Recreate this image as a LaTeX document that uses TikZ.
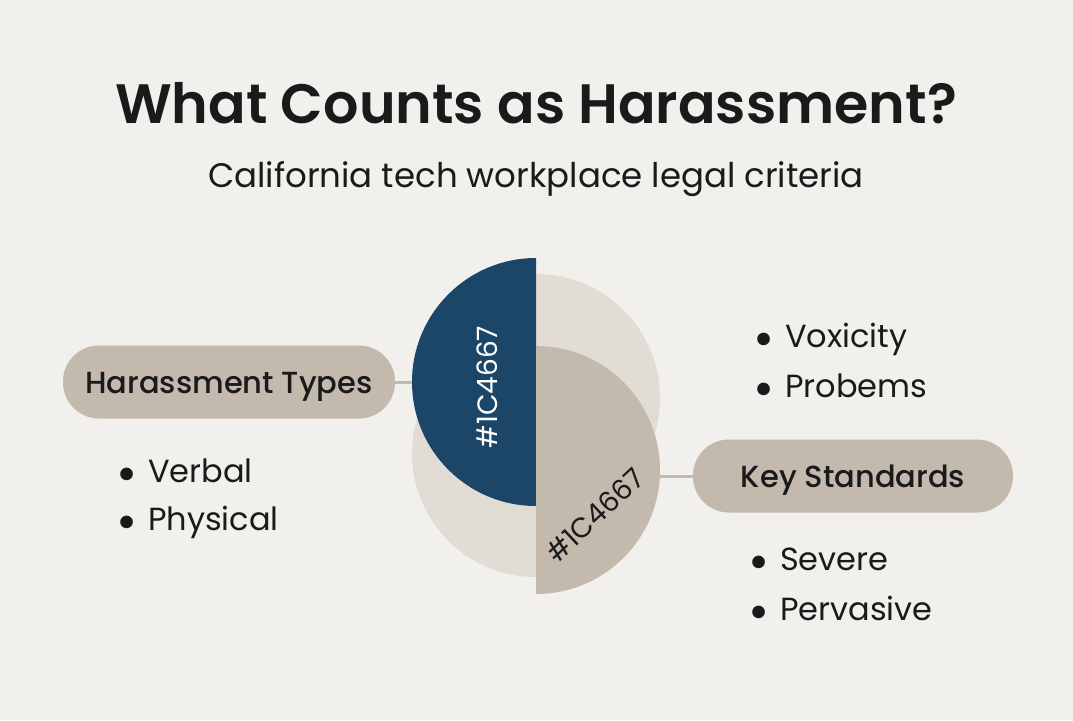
\documentclass[tikz,border=0pt]{standalone}
\usepackage{fontspec}
\usepackage{graphicx}
\setmainfont{Poppins}
\newfontfamily\headfont{Poppins SemiBold}
\newfontfamily\pillfont{Poppins Medium}
\definecolor{paper}{HTML}{F1F0EC}
\definecolor{navy}{HTML}{1C4667}
\definecolor{sand}{HTML}{C3BAAD}
\definecolor{pale}{HTML}{E1DCD4}
\definecolor{ink}{HTML}{1A1A1A}
\newcommand{\dotitem}{\llap{\raisebox{-9pt}{\scalebox{1.6}{•}}\hspace{11pt}}}
\begin{document}
\begin{tikzpicture}[x=1pt,y=1pt]
    \def\r{124}

    \tikzstyle{title}=[anchor=base,text=ink,font=\fontsize{55.5}{60}\selectfont\headfont]
    \tikzstyle{subtitle}=[anchor=base,text=ink,font=\fontsize{34}{38}\selectfont]
    \tikzstyle{pill}=[fill=sand,rounded corners=36pt,minimum height=73pt,text=ink,text height=22pt,text depth=0pt,font=\fontsize{30.5}{34}\selectfont\pillfont]
    \tikzstyle{item}=[anchor=base west,text=ink,inner sep=0pt,font=\fontsize{32}{36}\selectfont]
    \tikzstyle{code}=[inner sep=0pt,font=\fontsize{28}{32}\selectfont]
    \tikzstyle{link}=[draw=sand,line width=3pt]

    \fill[paper] (0,0) rectangle (1073,-720);

    \node[title]  (title) at (536,-123) {What Counts as Harassment?};
    \node[subtitle]  (sub) at (536,-187) {California tech workplace legal criteria};

    % half discs
    \fill[pale] (536,-398+\r) arc[start angle=90, end angle=-90, radius=\r] -- cycle;
    \fill[pale] (536,-453+\r) arc[start angle=90, end angle=270, radius=\r] -- cycle;
    \fill[navy] (536,-382+\r) arc[start angle=90, end angle=270, radius=\r] -- cycle;
    \fill[sand] (536,-470+\r) arc[start angle=90, end angle=-90, radius=\r] -- cycle;
    \coordinate (navyW) at (536-\r,-382);
    \coordinate (sandE) at (536+\r,-476);

    \node[code,rotate=90,text=white]  (c1) at (487,-387) {\#1C4667};
    \node[code,rotate=43,text=ink]  (c2) at (595,-515) {\#1C4667};

    \node[pill,minimum width=332pt]  (types) at (229,-382) {Harassment Types};
    \node[pill,minimum width=320pt]  (standards) at (853,-476) {Key Standards};

    \node[item]  (verbal) at (148,-482) {\dotitem Verbal};
    \node[item]  (physical) at (148,-530) {\dotitem Physical};
    \node[item]  (voxicity) at (785,-347) {\dotitem Voxicity};
    \node[item]  (probems) at (785,-397) {\dotitem Probems};
    \node[item]  (severe) at (780,-570) {\dotitem Severe};
    \node[item]  (pervasive) at (780,-620) {\dotitem Pervasive};

    \draw [link] (types) -- (navyW);
    \draw [link] (sandE) -- (standards);

\end{tikzpicture}
\end{document}
